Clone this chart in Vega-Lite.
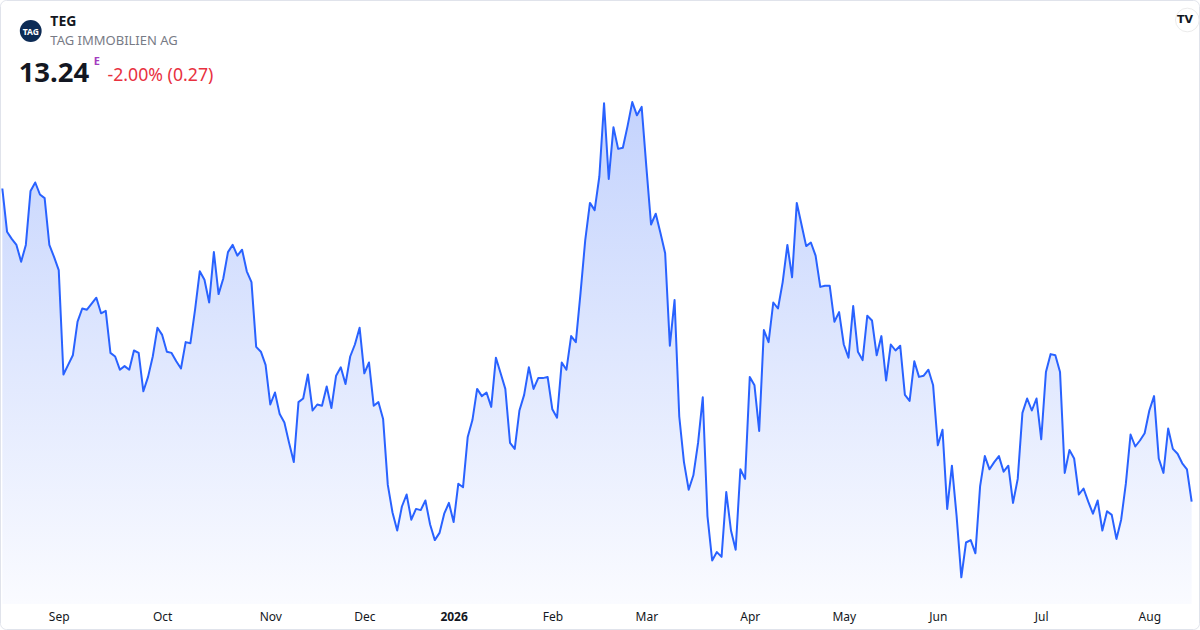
{
  "$schema": "https://vega.github.io/schema/vega-lite/v6.json",
  "width": 1189.33,
  "height": 514,
  "autosize": {"type": "none"},
  "padding": {"left": 2.33, "right": 8.34, "top": 90, "bottom": 26},
  "background": "#ffffff",
  "datasets": {
    "prices": [
      {"i": 0, "c": 15.85}, {"i": 1, "c": 15.49}, {"i": 2, "c": 15.43}, {"i": 3, "c": 15.38},
      {"i": 4, "c": 15.24}, {"i": 5, "c": 15.38}, {"i": 6, "c": 15.83}, {"i": 7, "c": 15.90},
      {"i": 8, "c": 15.80}, {"i": 9, "c": 15.77}, {"i": 10, "c": 15.38}, {"i": 11, "c": 15.28},
      {"i": 12, "c": 15.17}, {"i": 13, "c": 14.30}, {"i": 14, "c": 14.38}, {"i": 15, "c": 14.46},
      {"i": 16, "c": 14.74}, {"i": 17, "c": 14.85}, {"i": 18, "c": 14.84}, {"i": 19, "c": 14.89},
      {"i": 20, "c": 14.94}, {"i": 21, "c": 14.81}, {"i": 22, "c": 14.83}, {"i": 23, "c": 14.48},
      {"i": 24, "c": 14.45}, {"i": 25, "c": 14.34}, {"i": 26, "c": 14.37}, {"i": 27, "c": 14.34},
      {"i": 28, "c": 14.50}, {"i": 29, "c": 14.48}, {"i": 30, "c": 14.16}, {"i": 31, "c": 14.28},
      {"i": 32, "c": 14.45}, {"i": 33, "c": 14.69}, {"i": 34, "c": 14.63}, {"i": 35, "c": 14.49},
      {"i": 36, "c": 14.48}, {"i": 37, "c": 14.41}, {"i": 38, "c": 14.35}, {"i": 39, "c": 14.57},
      {"i": 40, "c": 14.56}, {"i": 41, "c": 14.84}, {"i": 42, "c": 15.16}, {"i": 43, "c": 15.09},
      {"i": 44, "c": 14.90}, {"i": 45, "c": 15.32}, {"i": 46, "c": 14.97}, {"i": 47, "c": 15.10},
      {"i": 48, "c": 15.32}, {"i": 49, "c": 15.38}, {"i": 50, "c": 15.29}, {"i": 51, "c": 15.34},
      {"i": 52, "c": 15.16}, {"i": 53, "c": 15.07}, {"i": 54, "c": 14.53}, {"i": 55, "c": 14.49},
      {"i": 56, "c": 14.38}, {"i": 57, "c": 14.05}, {"i": 58, "c": 14.15}, {"i": 59, "c": 13.97},
      {"i": 60, "c": 13.90}, {"i": 61, "c": 13.73}, {"i": 62, "c": 13.57}, {"i": 63, "c": 14.07},
      {"i": 64, "c": 14.10}, {"i": 65, "c": 14.30}, {"i": 66, "c": 14.00}, {"i": 67, "c": 14.05},
      {"i": 68, "c": 14.04}, {"i": 69, "c": 14.20}, {"i": 70, "c": 14.02}, {"i": 71, "c": 14.29},
      {"i": 72, "c": 14.36}, {"i": 73, "c": 14.22}, {"i": 74, "c": 14.45}, {"i": 75, "c": 14.55},
      {"i": 76, "c": 14.69}, {"i": 77, "c": 14.31}, {"i": 78, "c": 14.40}, {"i": 79, "c": 14.04},
      {"i": 80, "c": 14.07}, {"i": 81, "c": 13.93}, {"i": 82, "c": 13.38}, {"i": 83, "c": 13.15},
      {"i": 84, "c": 13.00}, {"i": 85, "c": 13.20}, {"i": 86, "c": 13.30}, {"i": 87, "c": 13.09},
      {"i": 88, "c": 13.18}, {"i": 89, "c": 13.17}, {"i": 90, "c": 13.25}, {"i": 91, "c": 13.05},
      {"i": 92, "c": 12.92}, {"i": 93, "c": 12.98}, {"i": 94, "c": 13.14}, {"i": 95, "c": 13.23},
      {"i": 96, "c": 13.07}, {"i": 97, "c": 13.39}, {"i": 98, "c": 13.36}, {"i": 99, "c": 13.78},
      {"i": 100, "c": 13.92}, {"i": 101, "c": 14.18}, {"i": 102, "c": 14.12}, {"i": 103, "c": 14.15},
      {"i": 104, "c": 14.03}, {"i": 105, "c": 14.44}, {"i": 106, "c": 14.31}, {"i": 107, "c": 14.18},
      {"i": 108, "c": 13.73}, {"i": 109, "c": 13.68}, {"i": 110, "c": 14.00}, {"i": 111, "c": 14.13},
      {"i": 112, "c": 14.36}, {"i": 113, "c": 14.18}, {"i": 114, "c": 14.27}, {"i": 115, "c": 14.27},
      {"i": 116, "c": 14.28}, {"i": 117, "c": 14.01}, {"i": 118, "c": 13.94}, {"i": 119, "c": 14.40},
      {"i": 120, "c": 14.34}, {"i": 121, "c": 14.62}, {"i": 122, "c": 14.57}, {"i": 123, "c": 14.98},
      {"i": 124, "c": 15.42}, {"i": 125, "c": 15.73}, {"i": 126, "c": 15.67}, {"i": 127, "c": 15.95},
      {"i": 128, "c": 16.56}, {"i": 129, "c": 15.93}, {"i": 130, "c": 16.36}, {"i": 131, "c": 16.18},
      {"i": 132, "c": 16.19}, {"i": 133, "c": 16.37}, {"i": 134, "c": 16.57}, {"i": 135, "c": 16.46},
      {"i": 136, "c": 16.53}, {"i": 137, "c": 16.03}, {"i": 138, "c": 15.55}, {"i": 139, "c": 15.64},
      {"i": 140, "c": 15.48}, {"i": 141, "c": 15.31}, {"i": 142, "c": 14.54}, {"i": 143, "c": 14.92},
      {"i": 144, "c": 13.95}, {"i": 145, "c": 13.57}, {"i": 146, "c": 13.34}, {"i": 147, "c": 13.46},
      {"i": 148, "c": 13.73}, {"i": 149, "c": 14.11}, {"i": 150, "c": 13.12}, {"i": 151, "c": 12.75},
      {"i": 152, "c": 12.82}, {"i": 153, "c": 12.78}, {"i": 154, "c": 13.32}, {"i": 155, "c": 13.00},
      {"i": 156, "c": 12.84}, {"i": 157, "c": 13.51}, {"i": 158, "c": 13.43}, {"i": 159, "c": 14.28},
      {"i": 160, "c": 14.21}, {"i": 161, "c": 13.83}, {"i": 162, "c": 14.67}, {"i": 163, "c": 14.57},
      {"i": 164, "c": 14.90}, {"i": 165, "c": 14.85}, {"i": 166, "c": 15.07}, {"i": 167, "c": 15.38},
      {"i": 168, "c": 15.11}, {"i": 169, "c": 15.73}, {"i": 170, "c": 15.55}, {"i": 171, "c": 15.37},
      {"i": 172, "c": 15.40}, {"i": 173, "c": 15.29}, {"i": 174, "c": 15.03}, {"i": 175, "c": 15.04},
      {"i": 176, "c": 15.04}, {"i": 177, "c": 14.74}, {"i": 178, "c": 14.82}, {"i": 179, "c": 14.55},
      {"i": 180, "c": 14.44}, {"i": 181, "c": 14.87}, {"i": 182, "c": 14.49}, {"i": 183, "c": 14.42},
      {"i": 184, "c": 14.79}, {"i": 185, "c": 14.75}, {"i": 186, "c": 14.46}, {"i": 187, "c": 14.62},
      {"i": 188, "c": 14.25}, {"i": 189, "c": 14.55}, {"i": 190, "c": 14.50}, {"i": 191, "c": 14.54},
      {"i": 192, "c": 14.13}, {"i": 193, "c": 14.08}, {"i": 194, "c": 14.41}, {"i": 195, "c": 14.28},
      {"i": 196, "c": 14.29}, {"i": 197, "c": 14.34}, {"i": 198, "c": 14.21}, {"i": 199, "c": 13.71},
      {"i": 200, "c": 13.84}, {"i": 201, "c": 13.18}, {"i": 202, "c": 13.54}, {"i": 203, "c": 13.12},
      {"i": 204, "c": 12.61}, {"i": 205, "c": 12.90}, {"i": 206, "c": 12.92}, {"i": 207, "c": 12.81},
      {"i": 208, "c": 13.37}, {"i": 209, "c": 13.62}, {"i": 210, "c": 13.51}, {"i": 211, "c": 13.57},
      {"i": 212, "c": 13.62}, {"i": 213, "c": 13.49}, {"i": 214, "c": 13.54}, {"i": 215, "c": 13.23},
      {"i": 216, "c": 13.43}, {"i": 217, "c": 13.98}, {"i": 218, "c": 14.10}, {"i": 219, "c": 14.00},
      {"i": 220, "c": 14.10}, {"i": 221, "c": 13.76}, {"i": 222, "c": 14.32}, {"i": 223, "c": 14.47},
      {"i": 224, "c": 14.46}, {"i": 225, "c": 14.32}, {"i": 226, "c": 13.48}, {"i": 227, "c": 13.67},
      {"i": 228, "c": 13.60}, {"i": 229, "c": 13.30}, {"i": 230, "c": 13.35}, {"i": 231, "c": 13.24},
      {"i": 232, "c": 13.14}, {"i": 233, "c": 13.25}, {"i": 234, "c": 13.00}, {"i": 235, "c": 13.16},
      {"i": 236, "c": 13.13}, {"i": 237, "c": 12.93}, {"i": 238, "c": 13.09}, {"i": 239, "c": 13.39},
      {"i": 240, "c": 13.80}, {"i": 241, "c": 13.70}, {"i": 242, "c": 13.75}, {"i": 243, "c": 13.81},
      {"i": 244, "c": 14.00}, {"i": 245, "c": 14.12}, {"i": 246, "c": 13.60}, {"i": 247, "c": 13.48},
      {"i": 248, "c": 13.85}, {"i": 249, "c": 13.68}, {"i": 250, "c": 13.64}, {"i": 251, "c": 13.56},
      {"i": 252, "c": 13.51}, {"i": 253, "c": 13.24}
    ]
  },
  "layer": [
    {
      "data": {"name": "prices"},
      "mark": {
        "type": "area",
        "interpolate": "linear",
        "color": {
          "gradient": "linear",
          "x1": 0, "y1": 0, "x2": 0, "y2": 1,
          "stops": [
            {"offset": 0, "color": "#c4d3fd"},
            {"offset": 1, "color": "#fafbff"}
          ]
        }
      },
      "encoding": {
        "x": {
          "field": "i",
          "type": "quantitative",
          "scale": {"domain": [0, 253], "nice": false, "zero": false},
          "axis": {
            "values": [12, 34, 57, 77, 96, 117, 137, 159, 179, 199, 221, 244],
            "labelExpr": "['Sep','Oct','Nov','Dec','2026','Feb','Mar','Apr','May','Jun','Jul','Aug'][indexof([12,34,57,77,96,117,137,159,179,199,221,244], datum.value)]",
            "title": null,
            "domain": false,
            "ticks": false,
            "grid": false,
            "labelFlush": false,
            "labelOverlap": false,
            "labelPadding": 7,
            "labelFont": "Noto Sans",
            "labelFontSize": 12,
            "labelColor": "#131722",
            "labelFontWeight": {"condition": {"test": "datum.value == 96", "value": "bold"}, "value": "normal"}
          }
        },
        "y": {
          "field": "c",
          "type": "quantitative",
          "scale": {"domain": [12.3875, 16.6708], "nice": false, "zero": false},
          "axis": null
        },
        "y2": {"datum": 12.3875}
      }
    },
    {
      "data": {"name": "prices"},
      "mark": {"type": "line", "color": "#2962ff", "strokeWidth": 2, "interpolate": "linear", "strokeJoin": "round"},
      "encoding": {
        "x": {"field": "i", "type": "quantitative"},
        "y": {"field": "c", "type": "quantitative"}
      }
    },
    {
      "data": {"values": [{}]},
      "mark": {"type": "rect", "filled": false, "stroke": "#e0e3eb", "strokeWidth": 1, "cornerRadius": 6},
      "encoding": {"x": {"value": -1.83}, "x2": {"value": 1197.17}, "y": {"value": -89.5}, "y2": {"value": 539.5}}
    },
    {
      "data": {"values": [{}]},
      "mark": {"type": "point", "shape": "circle", "filled": true, "opacity": 1, "size": 475, "color": "#0c2b55"},
      "encoding": {"x": {"value": 28.4}, "y": {"value": -59}}
    },
    {
      "data": {"values": [{}]},
      "mark": {"type": "text", "text": "TAG", "font": "Noto Sans", "fontSize": 8.5, "fontWeight": "bold", "color": "#ffffff", "align": "center", "baseline": "middle"},
      "encoding": {"x": {"value": 28.4}, "y": {"value": -58.5}}
    },
    {
      "data": {"values": [{}]},
      "mark": {"type": "text", "text": "TEG", "font": "Noto Sans", "fontSize": 14, "fontWeight": "bold", "color": "#131722", "align": "left", "baseline": "alphabetic"},
      "encoding": {"x": {"value": 48}, "y": {"value": -64}}
    },
    {
      "data": {"values": [{}]},
      "mark": {"type": "text", "text": "TAG IMMOBILIEN AG", "font": "Noto Sans", "fontSize": 13, "color": "#787b86", "align": "left", "baseline": "alphabetic"},
      "encoding": {"x": {"value": 48}, "y": {"value": -45}}
    },
    {
      "data": {"values": [{}]},
      "mark": {"type": "text", "text": "13.24", "font": "Noto Sans", "fontSize": 27.5, "fontWeight": "bold", "color": "#131722", "align": "left", "baseline": "alphabetic"},
      "encoding": {"x": {"value": 16.3}, "y": {"value": -8.3}}
    },
    {
      "data": {"values": [{}]},
      "mark": {"type": "text", "text": "E", "font": "Noto Sans", "fontSize": 11, "fontWeight": "bold", "color": "#a43cc0", "align": "left", "baseline": "alphabetic"},
      "encoding": {"x": {"value": 91.5}, "y": {"value": -25}}
    },
    {
      "data": {"values": [{}]},
      "mark": {"type": "text", "text": "-2.00% (0.27)", "font": "Noto Sans", "fontSize": 17.7, "color": "#e8313f", "align": "left", "baseline": "alphabetic"},
      "encoding": {"x": {"value": 105.2}, "y": {"value": -9.5}}
    },
    {
      "data": {"values": [{}]},
      "mark": {"type": "point", "shape": "circle", "filled": true, "opacity": 1, "size": 560, "color": "#ffffff", "stroke": "#ebebeb", "strokeWidth": 1},
      "encoding": {"x": {"value": 1185}, "y": {"value": -70}}
    },
    {
      "data": {"values": [{}]},
      "mark": {"type": "text", "text": "TV", "font": "DejaVu Sans", "fontSize": 11, "fontWeight": "bold", "color": "#131722", "align": "center", "baseline": "middle"},
      "encoding": {"x": {"value": 1182.7}, "y": {"value": -70}}
    }
  ],
  "config": {
    "view": {"stroke": null},
    "font": "Noto Sans"
  }
}
